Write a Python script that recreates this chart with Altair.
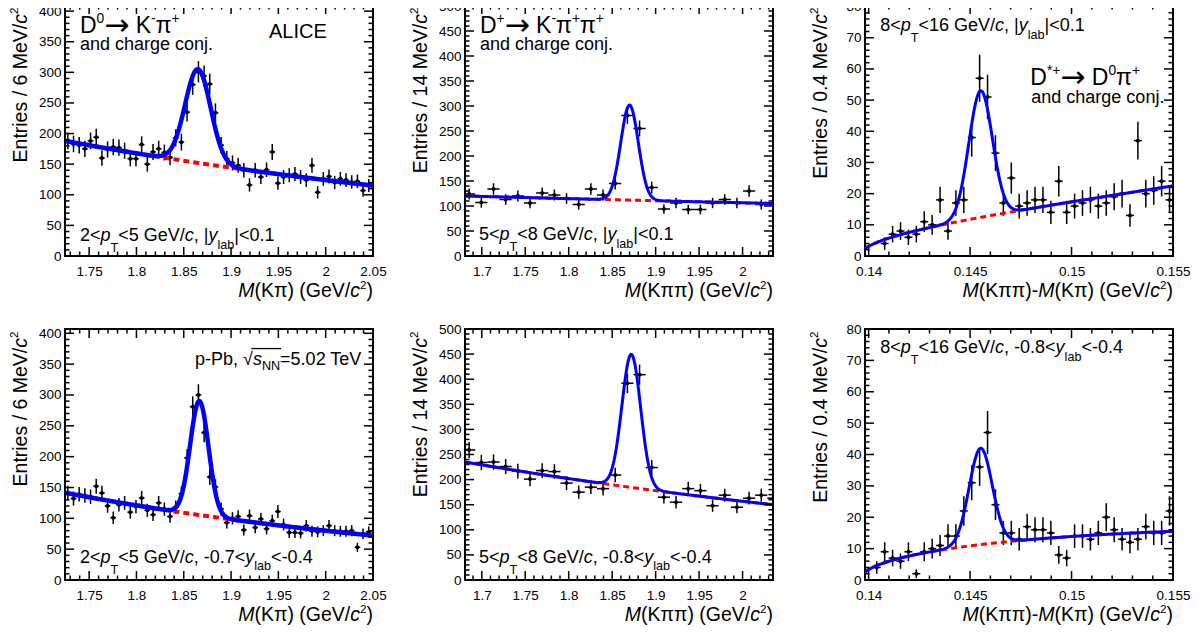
import glob
import os
import struct

import numpy as np
import pandas as pd
import altair as alt

FONT = "Liberation Sans"
SYMFONT = "DejaVu Sans"
W, H = 308, 251

# ---------------- values ----------------
# D0 -> K pi, 2<pT<5 GeV/c, bins of 6 MeV/c2 (first bin centre, width)
D0_X0, D0_STEP = 1.7275, 0.006
D0_COUNTS_MID = [188, 183, 181, 175, 188, 194, 160, 174, 178, 177,
                 172, 159, 159, 182, 150, 170, 175, 169, 161, 193,
                 186, 235, 280, 301, 294, 281, 234, 181, 159, 152,
                 148, 140, 116, 140, 129, 141, 170, 119, 129, 132,
                 134, 129, 124, 148, 104, 126, 130, 120, 126, 124,
                 121, 122, 107, 115]
D0_COUNTS_FWD = [141, 132, 139, 137, 135, 152, 141, 120, 101, 122,
                 125, 110, 119, 133, 113, 106, 125, 115, 103, 118,
                 140, 198, 281, 300, 239, 167, 151, 115, 93, 100,
                 103, 81, 104, 85, 99, 83, 96, 111, 90, 77,
                 77, 76, 88, 79, 78, 80, 88, 80, 79, 79,
                 80, 53, 75, 78]
# D+ -> K pi pi, 5<pT<8 GeV/c, bins of 14 MeV/c2
DP_X0, DP_STEP = 1.6855, 0.014
DP_COUNTS_MID = [124, 107, 134, 113, 120, 106, 126, 122, 115, 103,
                 134, 122, 145, 281, 255, 137, 94, 106, 93, 93,
                 106, 113, 106, 130, 103, 103]
DP_COUNTS_FWD = [259, 234, 235, 226, 217, 201, 218, 216, 193, 175,
                 185, 182, 209, 392, 409, 224, 165, 155, 182, 178,
                 148, 169, 145, 163, 169, 163]
# D*+ -> D0 pi, 8<pT<16 GeV/c, bins of ~0.4 MeV/c2
DS_X0, DS_STEP = 0.1404, 0.00039
DS_COUNTS_MID = [None, 4, 7, 8, 6, 7, 11, 10, 18, 8,
                 17, 18, 38, 57, 51, 33, 17, 25, 16, 17,
                 18, 18, 14, 24, 14, 16, 17, 18, 16, 17,
                 19, 20, 13, 37, 20, 21, 24, 18]
DS_COUNTS_FWD = [4, 9, 7, 6, 9, 2, 9, 10, 11, 14,
                 14, 22, 31, 36, 47, 24, 15, 15, 13, 17,
                 16, 16, 15, 8, 7, 14, 14, 13, 15, 20,
                 16, 13, 12, 13, 17, 15, 15, 22]

# fit curves: [mean, sigma, amplitude, background at left edge, background at right edge]
FIT_D0_MID = [1.865, 0.0135, 153, 188, 115]
FIT_D0_FWD = [1.8665, 0.0097, 185, 141.5, 72]
FIT_DP_MID = [1.870, 0.0101, 190, 120, 105]
FIT_DP_FWD = [1.872, 0.0108, 265, 235, 150]
# D*: [mean, sigma, amplitude, a, b] with background a*sqrt(dm-mpi)*exp(b*(dm-mpi))
M_PI = 0.13957
FIT_DS_MID = [0.14552, 0.00058, 40.6, 149.0, 12.6]
FIT_DS_FWD = [0.14552, 0.00057, 30.7, 161.8, -16.8]

# axes
XDOM_D0, XDOM_DP, XDOM_DS = [1.7245, 2.05], [1.6807, 2.035], [0.13982, 0.155]
XLAB_D0 = [1.75, 1.8, 1.85, 1.9, 1.95, 2.0, 2.05]
XLAB_DP = [1.7, 1.75, 1.8, 1.85, 1.9, 1.95, 2.0]
XLAB_DS = [0.14, 0.145, 0.15, 0.155]
YLAB_D0 = [0, 50, 100, 150, 200, 250, 300, 350, 400]
YLAB_DP = [0, 50, 100, 150, 200, 250, 300, 350, 400, 450, 500]
YLAB_DS = [0, 10, 20, 30, 40, 50, 60, 70, 80]

# ---------------- text metrics ----------------
ADV = {' ': 278, '(': 333, ')': 333, '*': 389, '+': 584, ',': 278, '-': 333, '.': 278, '/': 278,
       '<': 584, '=': 584, '>': 584, '|': 260,
       'A': 667, 'C': 722, 'D': 722, 'E': 667, 'G': 778, 'I': 278, 'K': 667, 'L': 556, 'M': 833,
       'N': 722, 'P': 667, 'T': 611, 'V': 667,
       'a': 556, 'b': 556, 'c': 500, 'd': 556, 'e': 556, 'g': 556, 'h': 556, 'i': 222, 'j': 222,
       'l': 222, 'n': 556, 'o': 556, 'p': 556, 'r': 333, 's': 500, 't': 278, 'y': 500,
       'π': 570, '→': 838, '√': 549}
for _d in '0123456789':
    ADV[_d] = 556


def _find_font(name):
    for root in ('/usr/share/fonts', '/usr/local/share/fonts', os.path.expanduser('~/.fonts'),
                 os.path.expanduser('~/.local/share/fonts')):
        hits = glob.glob(os.path.join(root, '**', name), recursive=True)
        if hits:
            return hits[0]
    return None


def _load_widths(name):
    path = _find_font(name)
    if not path:
        return None
    try:
        data = open(path, 'rb').read()
        ntab = struct.unpack('>H', data[4:6])[0]
        tabs = {}
        for i in range(ntab):
            tag, _cs, off, ln = struct.unpack('>4sIII', data[12 + 16 * i: 28 + 16 * i])
            tabs[tag.decode('latin1')] = off
        upem = struct.unpack('>H', data[tabs['head'] + 18: tabs['head'] + 20])[0]
        nh = struct.unpack('>H', data[tabs['hhea'] + 34: tabs['hhea'] + 36])[0]
        ho = tabs['hmtx']
        adv = [struct.unpack('>H', data[ho + 4 * i: ho + 4 * i + 2])[0] for i in range(nh)]
        co = tabs['cmap']
        nsub = struct.unpack('>H', data[co + 2: co + 4])[0]
        sub = None
        for i in range(nsub):
            pid, eid, so = struct.unpack('>HHI', data[co + 4 + 8 * i: co + 12 + 8 * i])
            fmt = struct.unpack('>H', data[co + so: co + so + 2])[0]
            if fmt == 4 and pid in (0, 3):
                sub = co + so
                break
        if sub is None:
            return None
        sx2 = struct.unpack('>H', data[sub + 6: sub + 8])[0]
        sc = sx2 // 2
        ends = struct.unpack('>%dH' % sc, data[sub + 14: sub + 14 + sx2])
        starts = struct.unpack('>%dH' % sc, data[sub + 16 + sx2: sub + 16 + 2 * sx2])
        deltas = struct.unpack('>%dh' % sc, data[sub + 16 + 2 * sx2: sub + 16 + 3 * sx2])
        roo = sub + 16 + 3 * sx2
        ros = struct.unpack('>%dH' % sc, data[roo: roo + sx2])

        def gid(ch):
            c = ord(ch)
            for i in range(sc):
                if ends[i] >= c:
                    if starts[i] > c:
                        return 0
                    if ros[i] == 0:
                        return (c + deltas[i]) & 0xFFFF
                    addr = roo + 2 * i + ros[i] + 2 * (c - starts[i])
                    g = struct.unpack('>H', data[addr: addr + 2])[0]
                    return (g + deltas[i]) & 0xFFFF if g else 0
            return 0

        def width(ch):
            g = gid(ch)
            if g == 0:
                return None
            return (adv[g] if g < nh else adv[-1]) * 1000.0 / upem
        return width
    except Exception:
        return None


WID = {'n': _load_widths('LiberationSans-Regular.ttf'),
       'i': _load_widths('LiberationSans-Italic.ttf'),
       's': _load_widths('DejaVuSans.ttf')}


def cw(ch, grp):
    f = WID.get(grp)
    w = f(ch) if f else None
    if w is None and WID.get('s'):
        w = WID['s'](ch)
    if w is None:
        w = ADV.get(ch, 556)
    return w


def tw(s, fs, grp='n'):
    return sum(cw(ch, grp) for ch in s) * fs / 1000.0


# segment kinds: (group, size factor, baseline shift in units of font size)
N = ('n', 1.0, 0.0)
I = ('i', 1.0, 0.0)
SUP = ('n', 0.6, 0.42)
SUBT = ('n', 0.7, -0.62)
SUBL = ('n', 0.7, -0.42)
SUBN = ('n', 0.7, -0.25)
ARR = ('s', 1.3, -0.08)


def seg_width(segs, fs):
    return sum(tw(t, fs * k[1], k[0]) for t, k in segs)


def layout(segs, x, y, fs, vertical=False, right=False):
    total = seg_width(segs, fs)
    if right:
        x = x - total
    rows, pos = [], 0.0
    for t, (grp, sc, sh) in segs:
        size = fs * sc
        lead = len(t) - len(t.lstrip(' '))
        pos += tw(' ' * lead, size, grp)
        body = t.strip(' ')
        if body:
            if vertical:
                rows.append(dict(px=x - sh * fs, py=y - pos, txt=body, fs=size, ang=270, g=grp))
            else:
                rows.append(dict(px=x + pos, py=y - sh * fs, txt=body, fs=size, ang=0, g=grp))
        pos += tw(t.lstrip(' '), size, grp)
    return rows, total


def kin(pt_lo, pt_hi, yrange):
    s = [(pt_lo + "<", N), ("p", I), ("T", SUBT), ("<" + pt_hi + " GeV/", N), ("c", I)]
    if yrange is None:
        s += [(", |", N), ("y", I), ("lab", SUBL), ("|<0.1", N)]
    else:
        s += [(", " + yrange[0] + "<", N), ("y", I), ("lab", SUBL), ("<" + yrange[1], N)]
    return s


def ytitle(mev):
    segs = [("Entries / " + mev + " MeV/", N), ("c", I), ("2", SUP)]
    return layout(segs, -38.5, 2.5 + seg_width(segs, 19.5), 19.5, vertical=True)[0]


def xtitle(kind):
    if kind == 'D0':
        segs = [("M", I), ("(Kπ) (GeV/", N), ("c", I), ("2", SUP), (")", N)]
    elif kind == 'DP':
        segs = [("M", I), ("(Kππ) (GeV/", N), ("c", I), ("2", SUP), (")", N)]
    else:
        segs = [("M", I), ("(Kππ)-", N), ("M", I), ("(Kπ) (GeV/", N), ("c", I), ("2", SUP), (")", N)]
    return layout(segs, W, H + 41, 19.5, right=True)[0]


def ticks(lo, hi, major, minor_step):
    mj = [v for v in major if lo - 1e-9 <= v <= hi + 1e-9]
    mn = []
    k = np.ceil(lo / minor_step - 1e-6)
    while k * minor_step <= hi + 1e-12:
        v = round(k * minor_step, 6)
        if all(abs(v - m) > minor_step * 0.1 for m in mj):
            mn.append(v)
        k += 1
    return mj, mn


def make_panel(kind, counts, x0, step, fit, xdom, ydom, xlab, ylab, xminor, yminor,
               texts, lwb, lwr, dash, extra_rules=None):
    xs_ = alt.Scale(domain=xdom, nice=False, zero=False)
    ys_ = alt.Scale(domain=ydom, nice=False, zero=False)
    xaxis = alt.Axis(values=xlab, title=None, labelExpr="format(datum.value, '~g')",
                     labelPadding=8, labelFlush=False, labelOverlap=False)
    yaxis = alt.Axis(values=ylab, title=None, labelPadding=4, labelOverlap=False, format='d')

    xc, yc = [], []
    for i, c in enumerate(counts):
        if c is not None:
            xc.append(x0 + step * i)
            yc.append(c)
    yc = np.array(yc, dtype=float)
    err = np.sqrt(yc)
    pts = pd.DataFrame(dict(x=xc, y=yc, lo=yc - err, hi=yc + err,
                            xlo=np.array(xc) - step / 2, xhi=np.array(xc) + step / 2))

    xs = np.linspace(xdom[0], xdom[1], 400)
    if kind == 'DS':
        mean, sig, amp, a, b = fit
        d = np.clip(xs - M_PI, 0, None)
        bkg = a * np.sqrt(d) * np.exp(b * d)
    else:
        mean, sig, amp, bl, br = fit
        bkg = bl * (br / bl) ** ((xs - xdom[0]) / (xdom[1] - xdom[0]))
    tot = bkg + amp * np.exp(-0.5 * ((xs - mean) / sig) ** 2)
    cur = pd.DataFrame(dict(x=xs, bkg=bkg, tot=tot))

    X = lambda f: alt.X(f, scale=xs_, axis=xaxis)
    Y = lambda f: alt.Y(f, scale=ys_, axis=yaxis)

    base = alt.Chart(pts)
    vbar = base.mark_rule(color='black', strokeWidth=1.5, clip=True).encode(
        x=X('x:Q'), y=Y('lo:Q'), y2='hi:Q')
    hbar = base.mark_rule(color='black', strokeWidth=1.5, clip=True).encode(
        x=X('xlo:Q'), x2='xhi:Q', y=Y('y:Q'))
    dots = base.mark_circle(size=16, color='black', opacity=1, clip=True).encode(
        x=X('x:Q'), y=Y('y:Q'))
    bk = alt.Chart(cur).mark_line(color='#ff0000', strokeWidth=lwr, strokeDash=dash,
                                  clip=True).encode(x=X('x:Q'), y=Y('bkg:Q'))
    tl = alt.Chart(cur).mark_line(color='#0000ff', strokeWidth=lwb, clip=True).encode(
        x=X('x:Q'), y=Y('tot:Q'))

    TL, TM = 9, 4.5
    ymj, ymn = ticks(ydom[0], ydom[1], ylab, yminor)
    xmj, xmn = ticks(xdom[0], xdom[1], xlab, xminor)
    yt = []
    for v in ymj:
        yt += [dict(v=v, a=0, b=TL), dict(v=v, a=W, b=W - TL)]
    for v in ymn:
        yt += [dict(v=v, a=0, b=TM), dict(v=v, a=W, b=W - TM)]
    xt = []
    for v in xmj:
        xt += [dict(v=v, a=H, b=H - TL), dict(v=v, a=0, b=TL)]
    for v in xmn:
        xt += [dict(v=v, a=H, b=H - TM), dict(v=v, a=0, b=TM)]
    ytl = alt.Chart(pd.DataFrame(yt)).mark_rule(color='black', strokeWidth=1.5).encode(
        y=Y('v:Q'), x=alt.X('a:Q', scale=None, axis=None), x2='b:Q')
    xtl = alt.Chart(pd.DataFrame(xt)).mark_rule(color='black', strokeWidth=1.5).encode(
        x=X('v:Q'), y=alt.Y('a:Q', scale=None, axis=None), y2='b:Q')

    tdf = pd.DataFrame(texts)
    layers = [vbar, hbar, dots, bk, tl, ytl, xtl]
    for grp in ('n', 'i', 's'):
        sub = tdf[tdf['g'] == grp]
        if len(sub):
            layers.append(alt.Chart(sub).mark_text(
                align='left', baseline='alphabetic',
                font=SYMFONT if grp == 's' else FONT, color='black',
                fontStyle='italic' if grp == 'i' else 'normal').encode(
                x=alt.X('px:Q', scale=None, axis=None),
                y=alt.Y('py:Q', scale=None, axis=None),
                text='txt:N',
                size=alt.Size('fs:Q', scale=None, legend=None),
                angle=alt.Angle('ang:Q', scale=None)))
    if extra_rules:
        for r in extra_rules:
            layers.append(alt.Chart(pd.DataFrame([r])).mark_rule(color='black', strokeWidth=1.3).encode(
                x=alt.X('x1:Q', scale=None, axis=None), x2='x2:Q',
                y=alt.Y('yy:Q', scale=None, axis=None)))
    return alt.layer(*layers).properties(width=W, height=H)


def decay(segs, x, y):
    return layout(segs, x, y, 23)[0]


# ---------------- panels ----------------
t1 = (decay([("D", N), ("0", SUP), ("→", ARR), (" K", N), ("-", SUP), ("π", N), ("+", SUP)], 15, 27.7)
      + layout([("and charge conj.", N)], 15, 45.3, 18)[0]
      + layout([("ALICE", N)], 204, 32.7, 20)[0]
      + layout(kin("2", "5", None), 15, 236, 18)[0]
      + ytitle("6") + xtitle('D0'))
t2 = (decay([("D", N), ("+", SUP), ("→", ARR), (" K", N), ("-", SUP), ("π", N), ("+", SUP),
             ("π", N), ("+", SUP)], 15, 27.7)
      + layout([("and charge conj.", N)], 15, 45.3, 18)[0]
      + layout(kin("5", "8", None), 14, 235.3, 18)[0]
      + ytitle("14") + xtitle('DP'))
t3 = (layout(kin("8", "16", None), 15.3, 26, 18)[0]
      + decay([("D", N), ("*+", SUP), ("→", ARR), (" D", N), ("0", SUP), ("π", N), ("+", SUP)], 165.3, 80)
      + layout([("and charge conj.", N)], 166.3, 97.7, 18)[0]
      + ytitle("0.4") + xtitle('DS'))
pp_rows, _ = layout([("p-Pb, ", N), ("√", N), ("s", I), ("NN", SUBN), ("=5.02 TeV", N)], 130, 36.3, 18)
sq = [r for r in pp_rows if r['txt'] == '√'][0]
nn = [r for r in pp_rows if r['txt'] == 'NN'][0]
bar = dict(x1=sq['px'] + tw("√", 18) * 0.85, x2=nn['px'] + tw("NN", nn['fs']) + 1, yy=36.3 - 0.93 * 18)
t4 = (pp_rows + layout(kin("2", "5", ("-0.7", "-0.4")), 15, 233.7, 18)[0]
      + ytitle("6") + xtitle('D0'))
t5 = layout(kin("5", "8", ("-0.8", "-0.4")), 14, 233.7, 18)[0] + ytitle("14") + xtitle('DP')
t6 = layout(kin("8", "16", ("-0.8", "-0.4")), 15.3, 24.3, 18)[0] + ytitle("0.4") + xtitle('DS')

p1 = make_panel('D0', D0_COUNTS_MID, D0_X0, D0_STEP, FIT_D0_MID, XDOM_D0, [0, 410], XLAB_D0, YLAB_D0,
                0.01, 10, t1, 4.5, 4, [6, 4])
p2 = make_panel('DP', DP_COUNTS_MID, DP_X0, DP_STEP, FIT_DP_MID, XDOM_DP, [0, 502], XLAB_DP, YLAB_DP,
                0.01, 10, t2, 3, 3, [6, 4])
p3 = make_panel('DS', DS_COUNTS_MID, DS_X0, DS_STEP, FIT_DS_MID, XDOM_DS, [0, 80.5], XLAB_DS, YLAB_DS,
                0.001, 2, t3, 3, 3, [6, 4])
p4 = make_panel('D0', D0_COUNTS_FWD, D0_X0, D0_STEP, FIT_D0_FWD, XDOM_D0, [0, 407], XLAB_D0, YLAB_D0,
                0.01, 10, t4, 4.5, 4, [6, 4], extra_rules=[bar])
p5 = make_panel('DP', DP_COUNTS_FWD, DP_X0, DP_STEP, FIT_DP_FWD, XDOM_DP, [0, 500], XLAB_DP, YLAB_DP,
                0.01, 10, t5, 3, 3, [6, 4])
p6 = make_panel('DS', DS_COUNTS_FWD, DS_X0, DS_STEP, FIT_DS_FWD, XDOM_DS, [0, 80], XLAB_DS, YLAB_DS,
                0.001, 2, t6, 3, 3, [6, 4])

chart = alt.concat(p1, p2, p3, p4, p5, p6, columns=3, spacing={'row': 73, 'column': 92},
                   bounds='flush').properties(
    padding={'left': 0, 'top': -11, 'right': 0, 'bottom': 0}, background='white'
).configure_view(stroke='black', strokeWidth=2).configure_axis(
    labelFont=FONT, labelFontSize=13.5, labelColor='black', grid=False, ticks=False, domain=False)

chart.save("out.html", embed_options={"renderer": "svg", "actions": False})
